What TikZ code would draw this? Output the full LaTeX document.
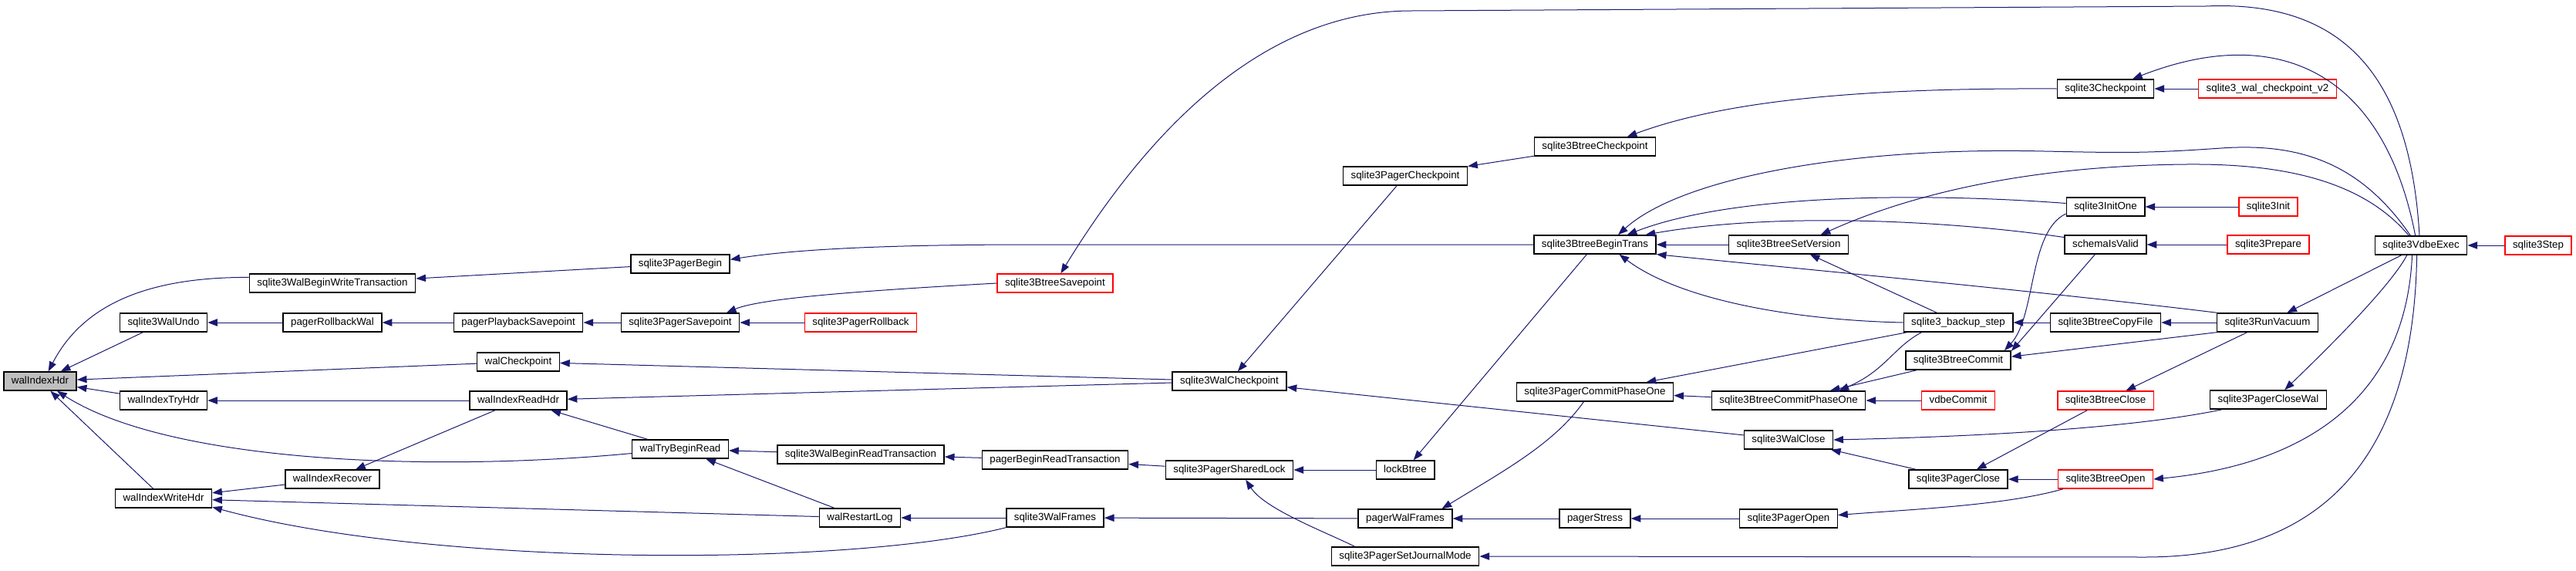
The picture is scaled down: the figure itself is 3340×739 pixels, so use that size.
\documentclass[tikz,border=0pt]{standalone}
\usepackage{fontspec}
\setmainfont{Liberation Sans}
\usetikzlibrary{arrows.meta}
\definecolor{edgeblue}{RGB}{25,25,112}
\definecolor{hdrgray}{RGB}{191,191,191}
\tikzset{
  box/.style={draw=black, line width=1.1pt, rectangle, fill=white, minimum height=18pt, inner xsep=7.5pt, inner ysep=0pt,
    font=\fontsize{10pt}{12pt}\selectfont, text height=7.3pt, text depth=2pt},
  redbox/.style={box, draw=red},
  graybox/.style={box, fill=hdrgray},
  conn/.style={draw=edgeblue, line width=0.75pt, -{Triangle[length=9.5pt,width=7pt]}}
}
\begin{document}
\begin{tikzpicture}[x=0.75pt, y=-0.75pt]
\useasboundingbox (0,0) rectangle (3340,739);
% nodes
\node[graybox] (n_wih) at (52,494) {walIndexHdr};
\node[box] (n_wbwt) at (431,367) {sqlite3WalBeginWriteTransaction};
\node[box] (n_wundo) at (212,418) {sqlite3WalUndo};
\node[box] (n_wtry) at (212,519) {walIndexTryHdr};
\node[box] (n_wwh) at (212,646) {walIndexWriteHdr};
\node[box] (n_prw) at (431,418) {pagerRollbackWal};
\node[box] (n_wrec) at (431,621) {walIndexRecover};
\node[box] (n_pps) at (672,418) {pagerPlaybackSavepoint};
\node[box] (n_wcp) at (672,469) {walCheckpoint};
\node[box] (n_wrh) at (672,519) {walIndexReadHdr};
\node[box] (n_pbeg) at (882,342) {sqlite3PagerBegin};
\node[box] (n_psp) at (882,418) {sqlite3PagerSavepoint};
\node[box] (n_wtbr) at (882,582) {walTryBeginRead};
\node[box] (n_wrl) at (1115,671) {walRestartLog};
\node[box] (n_wbrt) at (1116,589) {sqlite3WalBeginReadTransaction};
\node[redbox] (n_prb) at (1116,418) {sqlite3PagerRollback};
\node[redbox] (n_bsp) at (1368,367) {sqlite3BtreeSavepoint};
\node[box] (n_pbrt) at (1368,596) {pagerBeginReadTransaction};
\node[box] (n_wfr) at (1368,671) {sqlite3WalFrames};
\node[box] (n_wcpt) at (1594,494) {sqlite3WalCheckpoint};
\node[box] (n_psl) at (1594,609) {sqlite3PagerSharedLock};
\node[box] (n_pcp) at (1822,228) {sqlite3PagerCheckpoint};
\node[box] (n_lbt) at (1822,609) {lockBtree};
\node[box] (n_pwf) at (1822,672) {pagerWalFrames};
\node[box] (n_psjm) at (1822,721) {sqlite3PagerSetJournalMode};
\node[box] (n_bcp) at (2068,190) {sqlite3BtreeCheckpoint};
\node[box] (n_bbt) at (2068,317) {sqlite3BtreeBeginTrans};
\node[box] (n_pc1) at (2068,508) {sqlite3PagerCommitPhaseOne};
\node[box] (n_pst) at (2068,672) {pagerStress};
\node[box] (n_bsv) at (2319,317) {sqlite3BtreeSetVersion};
\node[box] (n_bc1) at (2319,519) {sqlite3BtreeCommitPhaseOne};
\node[box] (n_wcl) at (2319,570) {sqlite3WalClose};
\node[box] (n_pop) at (2319,672) {sqlite3PagerOpen};
\node[box] (n_bks) at (2539,418) {sqlite3\_backup\_step};
\node[box] (n_bcm) at (2539,467) {sqlite3BtreeCommit};
\node[redbox] (n_vcm) at (2539,519) {vdbeCommit};
\node[box] (n_pcl) at (2539,621) {sqlite3PagerClose};
\node[box] (n_cp) at (2730,115) {sqlite3Checkpoint};
\node[box] (n_io) at (2730,268) {sqlite3InitOne};
\node[box] (n_siv) at (2730,317) {schemaIsValid};
\node[box] (n_bcf) at (2730,418) {sqlite3BtreeCopyFile};
\node[redbox] (n_bcl) at (2730,519) {sqlite3BtreeClose};
\node[redbox] (n_bop) at (2730,621) {sqlite3BtreeOpen};
\node[redbox] (n_wcv2) at (2940,115) {sqlite3\_wal\_checkpoint\_v2};
\node[redbox] (n_init) at (2941,268) {sqlite3Init};
\node[redbox] (n_prep) at (2941,317) {sqlite3Prepare};
\node[box] (n_rv) at (2940,418) {sqlite3RunVacuum};
\node[box] (n_pcw) at (2941,518) {sqlite3PagerCloseWal};
\node[box] (n_vex) at (3139,318) {sqlite3VdbeExec};
\node[redbox] (n_step) at (3291,318) {sqlite3Step};
% edges into walIndexHdr
\draw[conn] (n_wbwt.176) .. controls (200,359) and (110,390) .. (n_wih.50);
\draw[conn] (n_wundo) -- (n_wih);
\draw[conn] (n_wcp) -- (n_wih);
\draw[conn] (n_wtry) -- (n_wih);
\draw[conn] (n_wtbr.185) .. controls (560,612) and (220,600) .. (n_wih.-30);
\draw[conn] (n_wwh) -- (n_wih);
% left part
\draw[conn] (n_prw) -- (n_wundo);
\draw[conn] (n_pps) -- (n_prw);
\draw[conn] (n_psp) -- (n_pps);
\draw[conn] (n_wrh) -- (n_wtry);
\draw[conn] (n_wrh) -- (n_wrec);
\draw[conn] (n_wtbr) -- (n_wrh);
\draw[conn] (n_wrec) -- (n_wwh);
\draw[conn] (n_wrl) -- (n_wwh);
\draw[conn] (n_wfr.south west) .. controls (1100,735) and (560,735) .. (n_wwh.-10);
\draw[conn] (n_wcpt) -- (n_wrh);
\draw[conn] (n_wcpt) -- (n_wcp);
\draw[conn] (n_wbrt) -- (n_wtbr);
\draw[conn] (n_wrl) -- (n_wtbr);
\draw[conn] (n_wfr) -- (n_wrl);
\draw[conn] (n_pbrt) -- (n_wbrt);
\draw[conn] (n_psl) -- (n_pbrt);
\draw[conn] (n_lbt) -- (n_psl);
\draw[conn] (n_psjm.169) .. controls (1720,690) and (1640,660) .. (n_psl.-31);
\draw[conn] (n_pwf) -- (n_wfr);
\draw[conn] (n_pbeg) -- (n_wbwt);
\draw[conn] (n_bbt.west) -- (1340,317) .. controls (1150,317) and (1030,323) .. (n_pbeg.5);
\draw[conn] (n_bsp.west) .. controls (1150,375) and (990,385) .. (n_psp.12);
\draw[conn] (n_prb) -- (n_psp);
\draw[conn] (n_vex.99) .. controls (3125,100) and (3040,0) .. (2860,8) -- (1830,14) .. controls (1620,14) and (1470,200) .. (n_bsp.60);
% checkpoint chain
\draw[conn] (n_pcp) -- (n_wcpt);
\draw[conn] (n_bcp) -- (n_pcp);
\draw[conn] (n_cp.west) .. controls (2450,114) and (2250,125) .. (n_bcp.17);
\draw[conn] (n_wcv2) -- (n_cp);
\draw[conn] (n_vex.120) .. controls (3090,90) and (2950,30) .. (n_cp.20);
\draw[conn] (n_wcl) -- (n_wcpt);
% btree begin trans
\draw[conn] (n_bbt) -- (n_lbt);
\draw[conn] (n_bsv) -- (n_bbt);
\draw[conn] (n_io.175) .. controls (2500,250) and (2250,250) .. (n_bbt.17);
\draw[conn] (n_siv.170) .. controls (2520,285) and (2300,275) .. (n_bbt.11);
\draw[conn] (n_vex.137) .. controls (3060,210) and (2980,185) .. (2880,192) .. controls (2780,199) and (2750,198) .. (2650,196) .. controls (2400,190) and (2180,230) .. (n_bbt.23);
\draw[conn] (n_vex.141) .. controls (3060,230) and (2950,212) .. (2835,213) .. controls (2620,215) and (2470,255) .. (n_bsv.17);
\draw[conn] (n_bks.west) .. controls (2330,415) and (2180,390) .. (n_bbt.-22);
\draw[conn] (n_rv.169) .. controls (2650,378) and (2350,350) .. (n_bbt.-9);
\draw[conn] (n_bks) -- (n_bsv);
% commit
\draw[conn] (n_io.190) .. controls (2630,300) and (2640,410) .. (n_bcm.12);
\draw[conn] (n_siv.-137) -- (n_bcm.10);
\draw[conn] (n_rv.south west) -- (n_bcm.4);
\draw[conn] (n_bcf) -- (n_bks);
\draw[conn] (n_rv) -- (n_bcf);
\draw[conn] (n_bks) -- (n_pc1);
\draw[conn] (n_bks.-165) .. controls (2455,450) and (2445,480) .. (n_bc1.11);
\draw[conn] (n_bcm) -- (n_bc1);
\draw[conn] (n_bc1) -- (n_pc1);
\draw[conn] (n_vcm) -- (n_bc1);
\draw[conn] (n_pc1.-139) .. controls (2015,575) and (1950,610) .. (n_pwf.15);
\draw[conn] (n_pst) -- (n_pwf);
\draw[conn] (n_pop) -- (n_pst);
\draw[conn] (n_bop.-167) .. controls (2600,655) and (2480,660) .. (n_pop.4);
% close
\draw[conn] (n_pcl) -- (n_wcl);
\draw[conn] (n_pcw.-168) .. controls (2780,552) and (2600,565) .. (n_wcl.east);
\draw[conn] (n_bcl) -- (n_pcl);
\draw[conn] (n_bop) -- (n_pcl);
\draw[conn] (n_rv) -- (n_bcl);
% vdbe exec bottom
\draw[conn] (n_vex.-132) .. controls (3120,500) and (3010,600) .. (n_bop.east);
\draw[conn] (n_vex.-113) .. controls (3130,560) and (3040,722) .. (2780,722) -- (n_psjm.east);
\draw[conn] (n_vex) -- (n_rv);
\draw[conn] (n_vex.-145) .. controls (3100,370) and (3020,450) .. (n_pcw.31);
\draw[conn] (n_step) -- (n_vex);
\draw[conn] (n_init) -- (n_io);
\draw[conn] (n_prep) -- (n_siv);
\end{tikzpicture}
\end{document}
